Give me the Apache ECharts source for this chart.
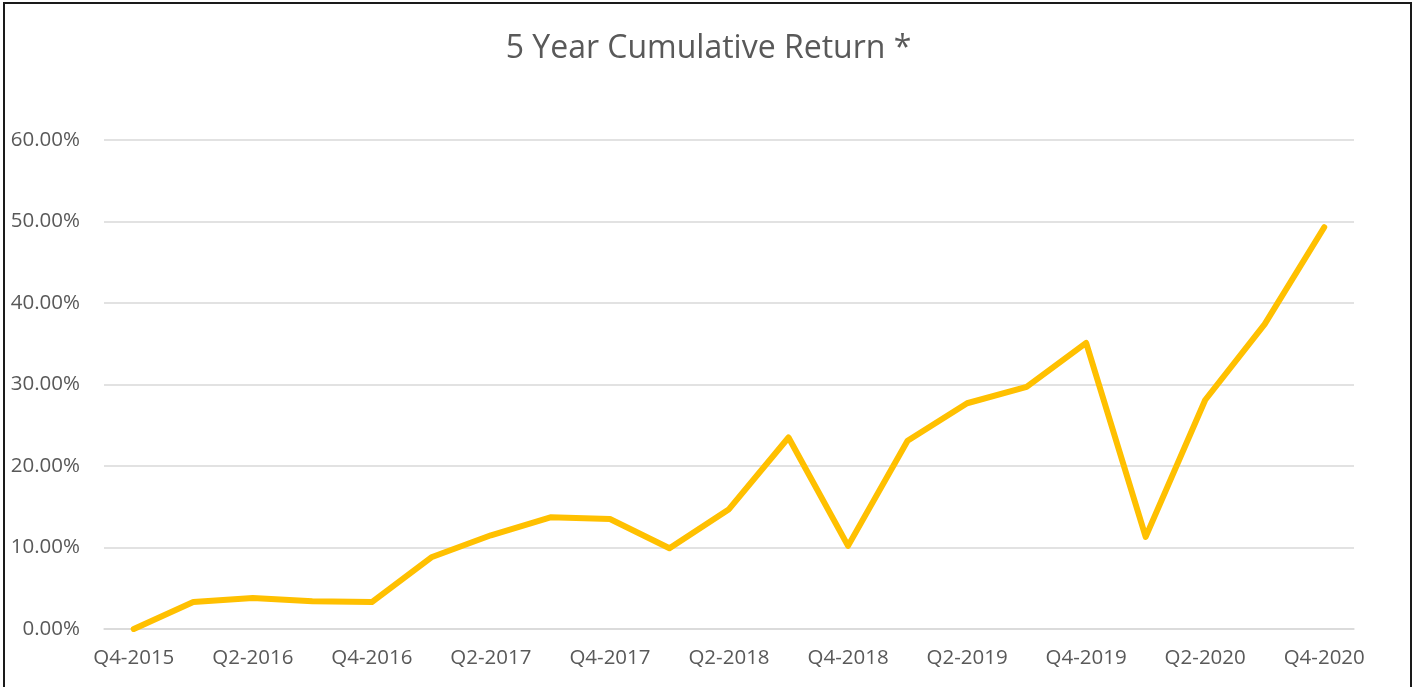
<!DOCTYPE html>
<html>
<head>
<meta charset="utf-8">
<script src="https://cdn.jsdelivr.net/npm/echarts@6/dist/echarts.min.js"></script>
<style>
html,body{margin:0;padding:0;background:#fff;}
#chart{width:1417px;height:687px;}
</style>
</head>
<body>
<div id="chart"></div>
<script>
const categories = ['Q4-2015','Q1-2016','Q2-2016','Q3-2016','Q4-2016','Q1-2017','Q2-2017','Q3-2017','Q4-2017','Q1-2018','Q2-2018','Q3-2018','Q4-2018','Q1-2019','Q2-2019','Q3-2019','Q4-2019','Q1-2020','Q2-2020','Q3-2020','Q4-2020'];
const returns = [0, 3.3, 3.8, 3.4, 3.3, 8.8, 11.5, 13.7, 13.5, 9.9, 14.7, 23.5, 10.2, 23.1, 27.7, 29.7, 35.1, 11.3, 28.1, 37.4, 49.3];
const yTicks = { min: 0, max: 60, interval: 10 };
const titleText = '5 Year Cumulative Return *';

const chart = echarts.init(document.getElementById('chart'));
chart.setOption({
  animation: false,
  backgroundColor: '#fff',
  title: {
    text: titleText,
    left: 'center',
    top: 28,
    textStyle: { fontFamily: 'Open Sans', fontSize: 32, fontWeight: 'normal', color: '#595959' }
  },
  graphic: [{
    type: 'rect',
    shape: { x: 4, y: 3, width: 1407, height: 720 },
    style: { fill: 'none', stroke: '#1a1a1a', lineWidth: 2 },
    silent: true
  }],
  grid: { left: 104, right: 63, top: 140, bottom: 58, containLabel: false },
  xAxis: {
    type: 'category',
    data: categories,
    boundaryGap: true,
    axisLine: { show: true, lineStyle: { color: '#d9d9d9', width: 1.5 } },
    axisTick: { show: false },
    axisLabel: { interval: 1, color: '#595959', fontFamily: 'Open Sans', fontSize: 20.5, margin: 19 }
  },
  yAxis: {
    type: 'value',
    min: yTicks.min, max: yTicks.max, interval: yTicks.interval,
    axisLine: { show: false },
    axisTick: { show: false },
    splitLine: { lineStyle: { color: '#d9d9d9', width: 1.5 } },
    axisLabel: {
      color: '#595959', fontFamily: 'Open Sans', fontSize: 20.5, margin: 24,
      formatter: v => v.toFixed(2) + '%'
    }
  },
  series: [{
    type: 'line',
    data: returns,
    symbol: 'none',
    lineStyle: { color: '#FFC000', width: 6, join: 'round', cap: 'round' },
    itemStyle: { color: '#FFC000' }
  }]
});
</script>
</body>
</html>
